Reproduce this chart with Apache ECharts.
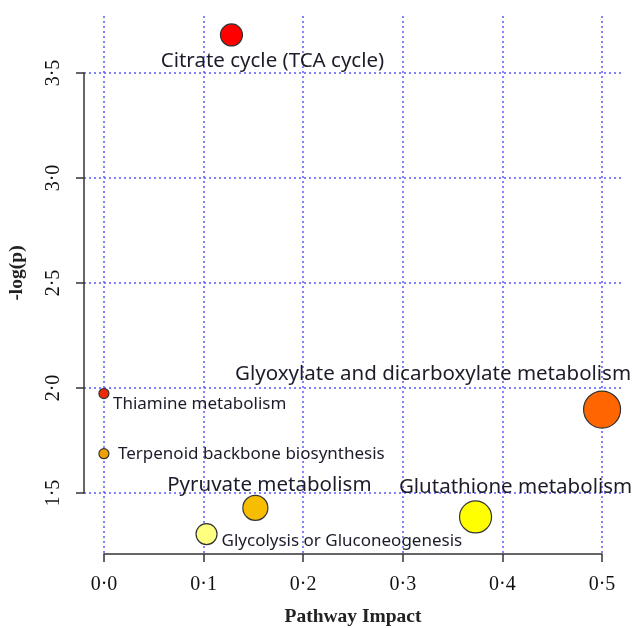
<!DOCTYPE html>
<html>
<head>
<meta charset="utf-8">
<script src="https://cdn.jsdelivr.net/npm/echarts@6/dist/echarts.min.js"></script>
<style>html,body{margin:0;padding:0;background:#fff}#c{width:633px;height:628px}</style>
</head>
<body>
<div id="c"></div>
<script>
// ---- data ----
var pathways = ['Citrate cycle (TCA cycle)', 'Thiamine metabolism', 'Terpenoid backbone biosynthesis',
  'Glyoxylate and dicarboxylate metabolism', 'Pyruvate metabolism', 'Glutathione metabolism',
  'Glycolysis or Gluconeogenesis'];
var impact = [0.128, 0.0, 0.0, 0.5, 0.152, 0.373, 0.103];
var negLogP = [3.671, 1.971, 1.686, 1.895, 1.429, 1.386, 1.305];
var bubbleSize = [22, 10, 10, 37, 25, 32, 21];
var bubbleColor = ['#ff0000', '#ee2a0a', '#f2a200', '#ff6600', '#f7bd00', '#ffff00', '#ffff80'];
var xTicks = [0, 0.1, 0.2, 0.3, 0.4, 0.5];
var yTicks = [1.5, 2.0, 2.5, 3.0, 3.5];

// ---- label placement (style) ----
var labelStyle = [
  {align: 'center', offset: [41, 26], fontSize: 20.5},
  {align: 'left', offset: [9, 11], fontSize: 17},
  {align: 'left', offset: [14, 0], fontSize: 17},
  {align: 'center', offset: [-169, -35], fontSize: 20.5},
  {align: 'center', offset: [14, -23], fontSize: 20.5},
  {align: 'center', offset: [40, -30], fontSize: 20.5},
  {align: 'left', offset: [15, 7], fontSize: 17}
];

function fmt(v) { return v.toFixed(1).replace('.', '\u00b7'); }

var xMin = xTicks[0], xMax = xTicks[xTicks.length - 1];
var yMin = yTicks[0], yMax = yTicks[yTicks.length - 1];
var dMinY = Math.min.apply(null, negLogP), dMaxY = Math.max.apply(null, negLogP);
var padX = (xMax - xMin) * 0.04, padY = (dMaxY - dMinY) * 0.04;

var data = pathways.map(function (n, i) {
  var ls = labelStyle[i];
  return {
    name: n,
    value: [impact[i], negLogP[i]],
    symbolSize: bubbleSize[i],
    itemStyle: {color: bubbleColor[i]},
    label: {show: true, position: 'inside', align: ls.align, verticalAlign: 'middle',
      offset: ls.offset, fontSize: ls.fontSize, formatter: n}
  };
});

var serif = 'Liberation Serif';
var gridLine = {show: true, lineStyle: {color: '#5a5aff', width: 1.5, type: [2, 3]}};
var axisLn = {show: true, lineStyle: {color: '#333', width: 1.5}};

var chart = echarts.init(document.getElementById('c'));
chart.setOption({
  animation: false,
  backgroundColor: '#fff',
  grid: [
    {left: 84, right: 11, top: 15, bottom: 74, outerBoundsMode: 'none', containLabel: false},
    {left: 104, right: 31, top: 16, bottom: 74, outerBoundsMode: 'none', containLabel: false},
    {left: 84, right: 11, top: 73, bottom: 135, outerBoundsMode: 'none', containLabel: false}
  ],
  xAxis: [
    {gridIndex: 0, type: 'value', min: xMin - padX, max: xMax + padX, show: false},
    {gridIndex: 1, type: 'value', min: xMin, max: xMax, interval: 0.1,
      axisLine: axisLn, axisTick: {show: true, length: 8, lineStyle: {color: '#333', width: 1.5}},
      axisLabel: {formatter: fmt, margin: 21, fontFamily: serif, fontSize: 20, color: '#111'},
      splitLine: gridLine,
      name: 'Pathway Impact', nameLocation: 'middle', nameGap: 53,
      nameTextStyle: {fontFamily: serif, fontSize: 19.5, fontWeight: 'bold', color: '#222'}},
    {gridIndex: 2, type: 'value', min: 0, max: 1, show: false}
  ],
  yAxis: [
    {gridIndex: 0, type: 'value', min: dMinY - padY, max: dMaxY + padY, show: false},
    {gridIndex: 1, type: 'value', min: 0, max: 1, show: false},
    {gridIndex: 2, type: 'value', min: yMin, max: yMax, interval: 0.5,
      axisLine: axisLn, axisTick: {show: true, length: 8, lineStyle: {color: '#333', width: 1.5}},
      axisLabel: {formatter: fmt, rotate: 90, margin: 20, fontFamily: serif, fontSize: 20, color: '#111'},
      splitLine: gridLine,
      name: '-log(p)', nameLocation: 'middle', nameGap: 57, nameRotate: 90,
      nameTextStyle: {fontFamily: serif, fontSize: 19.5, fontWeight: 'bold', color: '#222',
        padding: [0, 0, 0, 20]}}
  ],
  series: [{
    type: 'scatter', xAxisIndex: 0, yAxisIndex: 0, z: 5,
    data: data,
    itemStyle: {borderColor: '#333', borderWidth: 1.2, opacity: 1},
    label: {color: '#1c1c2a', fontFamily: 'Noto Sans'},
    emphasis: {disabled: true}
  }]
});
</script>
</body>
</html>
